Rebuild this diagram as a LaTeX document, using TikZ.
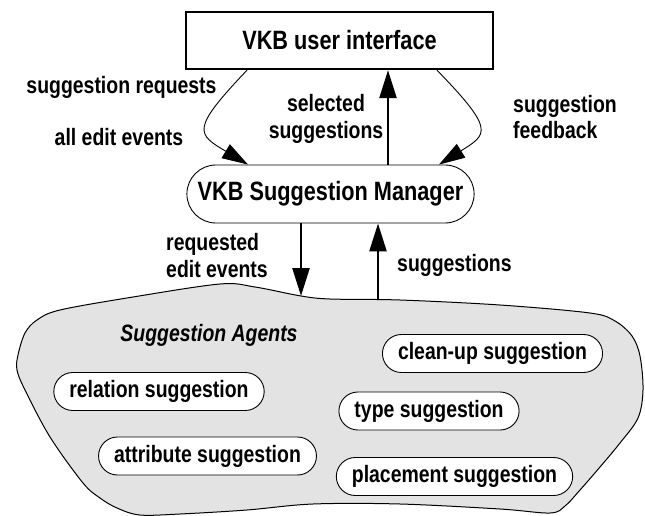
\documentclass[tikz,border=0pt]{standalone}
\usepackage{fontspec}
\setmainfont{Liberation Sans}[FakeStretch=0.82]
\usetikzlibrary{arrows.meta,shapes.misc}
\begin{document}
\begin{tikzpicture}[x=1pt,y=-1pt,
  lbl/.style={font=\fontsize{23.7}{26.5}\selectfont\bfseries, inner sep=0pt},
  big/.style={font=\fontsize{26.5}{30}\selectfont\bfseries},
  agent/.style={rounded rectangle, draw, fill=white, line width=0.9pt, font=\fontsize{23.7}{28}\selectfont\bfseries, inner xsep=12pt, minimum height=38pt},
  thickarrow/.style={line width=2.5pt, -{Triangle[length=28pt,width=17pt]}},
  thinarrow/.style={line width=0.9pt, -{Triangle[length=26pt,width=16pt]}},
]
\useasboundingbox (0,0) rectangle (645,516);

% blob
\draw[fill=black!11, line width=1pt] plot[smooth cycle, tension=0.55] coordinates {
(37,320) (60,310) (133,297) (220,284) (255,287) (301,296) (330,299) (400,300)
(500,305) (590,313) (615,321) (632,336) (640,356) (643,390) (638,418) (620,443)
(600,467) (580,490) (565,506) (550,513) (500,509) (400,504) (313,504) (247,510)
(180,514) (140,515) (117,508) (100,498) (83,483) (50,437) (25,390) (17,370)
(18,355) (25,333)};

% main nodes
\node[draw, line width=2.4pt, minimum width=307pt, minimum height=57pt, big] (ui) at (339.5,40.5) {VKB user interface};
\node[rounded rectangle, draw, line width=0.9pt, fill=white, minimum width=285pt, minimum height=58pt, inner xsep=8pt, big] (mgr) at (330.5,194) {VKB Suggestion Manager};

% agents
\node[lbl, font=\fontsize{23.7}{26}\selectfont\bfseries\itshape] (sa) at (209,335) {Suggestion Agents};
\node[agent] (clean) at (492.5,353.5) {clean-up suggestion};
\node[agent] (rel) at (159,391.5) {relation suggestion};
\node[agent] (type) at (429,411) {type suggestion};
\node[agent] (attr) at (207.5,456) {attribute suggestion};
\node[agent] (place) at (454.5,476.5) {placement suggestion};

% connector coordinates
\coordinate (selx) at (388,0);
\coordinate (lq) at (247,0);
\coordinate (lt) at (248,0);
\coordinate (rq) at (437,0);
\coordinate (rt) at (439,0);
\coordinate (bA) at (301,296);
\coordinate (bB) at (378,300);

\draw[thickarrow] (mgr.north -| selx) -- (ui.south -| selx);
\draw[thinarrow] (ui.south -| lq) .. controls (190,130) and (197,134) .. (mgr.north -| lt);
\draw[thinarrow] (ui.south -| rq) .. controls (495,130) and (488,134) .. (mgr.north -| rt);
\draw[thickarrow] (mgr.south -| bA) -- (bA);
\draw[thickarrow] (bB) -- (mgr.south -| bB);

% labels
\node[lbl] (l1) at (121.5,87) {suggestion requests};
\node[lbl] (l2) at (119,137) {all edit events};
\node[lbl, align=center] (l3) at (326,119) {selected\\suggestions};
\node[lbl, align=left, anchor=west] (l4) at (513,117) {suggestion\\feedback};
\node[lbl, align=left, anchor=west] (l5) at (166,255.5) {requested\\edit events};
\node[lbl, anchor=west] (l6) at (397,265) {suggestions};
\end{tikzpicture}
\end{document}
